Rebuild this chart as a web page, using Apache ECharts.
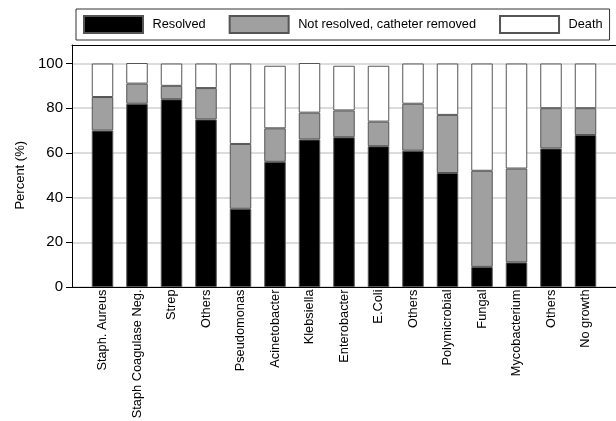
<!DOCTYPE html>
<html>
<head>
<meta charset="utf-8">
<script src="https://cdn.jsdelivr.net/npm/echarts@6/dist/echarts.min.js"></script>
<style>
  html, body { margin: 0; padding: 0; background: #fff; }
  #chart { width: 616px; height: 421px; }
</style>
</head>
<body>
<div id="chart"></div>
<script>
// Outcome of catheter-related infection by organism (percent of episodes)
const categories = [
  'Staph. Aureus', 'Staph Coagulase Neg.', 'Strep', 'Others', 'Pseudomonas',
  'Acinetobacter', 'Klebsiella', 'Enterobacter', 'E.Coli', 'Others',
  'Polymicrobial', 'Fungal', 'Mycobacterium', 'Others', 'No growth'
];
const resolved      = [70, 82, 84, 75, 35, 56, 66, 67, 63, 61, 51,  9, 11, 62, 68];
const notResolved   = [15,  9,  6, 14, 29, 15, 12, 12, 11, 21, 26, 43, 42, 18, 12];
const death         = [15, 10, 10, 11, 36, 28, 23, 20, 25, 18, 23, 48, 47, 20, 20];
const yTicks = [0, 20, 40, 60, 80, 100];

const FONT = '"Liberation Sans", Arial, Helvetica, sans-serif';
const chart = echarts.init(document.getElementById('chart'), null, { renderer: 'canvas' });

const plotBottom = 134;
const barStyle = (color) => ({ color: color, borderColor: '#555', borderWidth: 1 });

const mkSeries = (name, data, color) => ({
  name: name,
  type: 'bar',
  stack: 'total',
  xAxisIndex: 2,
  yAxisIndex: 2,
  barWidth: 21.5,
  data: data,
  itemStyle: barStyle(color),
  emphasis: { disabled: true }
});

const gridBase = { bottom: plotBottom, outerBoundsMode: 'none', containLabel: false };

chart.setOption({
  animation: false,
  textStyle: { fontFamily: FONT },
  legend: {
    left: 76,
    top: 9,
    padding: [6, 7, 6, 7],
    itemWidth: 59,
    itemHeight: 17,
    itemGap: 23,
    icon: 'rect',
    borderColor: '#333',
    borderWidth: 1,
    textStyle: { fontFamily: FONT, fontSize: 12.75, color: '#000', padding: [0, 0, 0, 4.5] },
    data: ['Resolved', 'Not resolved, catheter removed', 'Death']
  },
  grid: [
    // frame: left and bottom axis lines plus top rule
    Object.assign({ left: 72, right: 0, top: 45 }, gridBase),
    // value scale with labels and gridlines
    Object.assign({ left: 72, right: 0, top: 63.5 }, gridBase),
    // bars
    Object.assign({ left: 85.25, right: 13.25, top: 63.5 }, gridBase)
  ],
  xAxis: [
    { gridIndex: 0, type: 'value', min: 0, max: 1, position: 'bottom',
      axisLine: { show: true, lineStyle: { color: '#000', width: 1 } },
      axisTick: { show: false }, axisLabel: { show: false }, splitLine: { show: false } },
    { gridIndex: 1, type: 'value', min: 0, max: 1, show: false },
    { gridIndex: 2, type: 'category', data: categories,
      axisLine: { show: false }, axisTick: { show: false },
      axisLabel: { rotate: 90, interval: 0, margin: 2.5, fontSize: 12.8, color: '#000', fontFamily: FONT } },
    { gridIndex: 0, type: 'value', min: 0, max: 1, position: 'top',
      axisLine: { show: true, lineStyle: { color: '#000', width: 1 } },
      axisTick: { show: false }, axisLabel: { show: false }, splitLine: { show: false } }
  ],
  yAxis: [
    { gridIndex: 0, type: 'value', min: 0, max: 1,
      axisLine: { show: true, lineStyle: { color: '#000', width: 1 } },
      axisTick: { show: false }, axisLabel: { show: false }, splitLine: { show: false } },
    { gridIndex: 1, type: 'value', min: yTicks[0], max: yTicks[yTicks.length - 1], interval: 20,
      name: 'Percent (%)', nameLocation: 'middle', nameGap: 42,
      nameTextStyle: { fontSize: 13, color: '#000', fontFamily: FONT },
      axisLine: { show: false },
      axisTick: { show: true, inside: false, length: 6, lineStyle: { color: '#000' } },
      axisLabel: { fontSize: 15, color: '#000', margin: 9, fontFamily: FONT },
      splitLine: { show: true, lineStyle: { color: '#dcdcdc', width: 2 } } },
    { gridIndex: 2, type: 'value', min: 0, max: 100, show: false }
  ],
  series: [
    mkSeries('Resolved', resolved, '#000000'),
    mkSeries('Not resolved, catheter removed', notResolved, '#a0a0a0'),
    mkSeries('Death', death, '#ffffff')
  ]
});
</script>
</body>
</html>
